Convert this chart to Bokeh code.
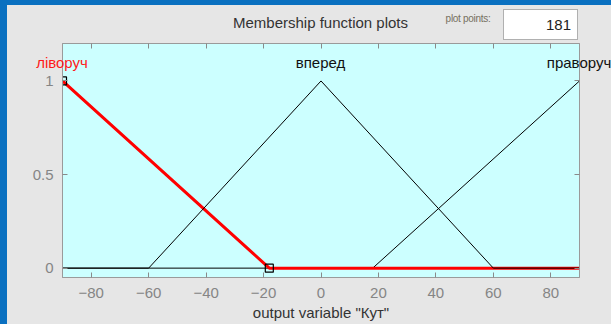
from bokeh.plotting import figure
from bokeh.models import Range1d, LinearAxis, FixedTicker, CustomJSTickFormatter, Div
from bokeh.embed import file_html
from bokeh.resources import INLINE

# ---- data ----
x_ticks = [-80, -60, -40, -20, 0, 20, 40, 60, 80]
y_ticks = [0, 0.5, 1]
y_tick_labels = {0: "0", 0.5: "0.5", 1: "1"}

mf_names = ["ліворуч", "вперед", "праворуч"]
mf_peaks = [-90, 0, 90]
mf_colors = ["#ff1a1a", "#111111", "#111111"]

livoruch_x = [-90, -18, 90]
livoruch_y = [1, 0, 0]
vpered_x = [-90, -60, 0, 60, 90]
vpered_y = [0, 0, 1, 0, 0]
pravoruch_x = [-90, 18, 90]
pravoruch_y = [0, 0, 1]
sel_vertex_x = [-90, -18]
sel_vertex_y = [1, 0]

plot_points = "181"
x_label = 'output variable "Кут"'
title_text = "Membership function plots"

FONT = "Liberation Sans"
W, H = 611, 324
BL, BR, BT, BB = 62, 32, 43, 47
XMIN, XMAX, YMIN, YMAX = -90, 90, -0.05, 1.2

p = figure(width=W, height=H, x_range=Range1d(XMIN, XMAX), y_range=Range1d(YMIN, YMAX),
           output_backend="svg", toolbar_location=None,
           min_border_left=BL, min_border_right=BR, min_border_top=BT, min_border_bottom=BB)
p.background_fill_color = "#ccffff"
p.border_fill_color = "#e6e6e6"
p.outline_line_color = "#9a9a9a"
p.xgrid.visible = False
p.ygrid.visible = False

fw = W - BL - BR
def cx(peak):
    return BL + (peak - XMIN) * fw / (XMAX - XMIN)

# axes
for ax in [p.xaxis[0], p.yaxis[0]]:
    ax.axis_line_color = "#9a9a9a"
    ax.major_tick_line_color = "#8a8a8a"
    ax.major_tick_in = 5
    ax.major_tick_out = 0
    ax.minor_tick_line_color = None
    ax.major_label_text_font = FONT
    ax.major_label_text_font_size = "15px"
    ax.major_label_text_color = "#858585"

p.xaxis.ticker = FixedTicker(ticks=x_ticks)
p.xaxis.major_label_standoff = 10
p.xaxis.axis_label = x_label
p.xaxis.axis_label_text_font = FONT
p.xaxis.axis_label_text_font_size = "15px"
p.xaxis.axis_label_text_font_style = "normal"
p.xaxis.axis_label_text_color = "#333333"
p.xaxis.axis_label_standoff = 3

p.yaxis.ticker = FixedTicker(ticks=y_ticks)
p.yaxis.major_label_overrides = y_tick_labels
p.yaxis.major_label_standoff = 9

blank = CustomJSTickFormatter(code="return ''")
top = LinearAxis(ticker=FixedTicker(ticks=x_ticks), formatter=blank,
                 major_label_standoff=0, major_tick_in=5, major_tick_out=0,
                 minor_tick_line_color=None, axis_line_color="#9a9a9a",
                 major_tick_line_color="#8a8a8a")
right = LinearAxis(ticker=FixedTicker(ticks=y_ticks), formatter=blank,
                   major_label_standoff=0, major_tick_in=5, major_tick_out=0,
                   minor_tick_line_color=None, axis_line_color="#9a9a9a",
                   major_tick_line_color="#8a8a8a")
p.add_layout(top, "above")
p.add_layout(right, "right")

# membership functions (selected one in red)
p.line(pravoruch_x, pravoruch_y, line_color="black", line_width=1)
p.line(livoruch_x, livoruch_y, line_color="#ff0000", line_width=3)
p.line(vpered_x, vpered_y, line_color="black", line_width=1)
p.scatter(sel_vertex_x, sel_vertex_y, marker="square", size=8, fill_color=None,
          line_color="black", line_width=1.2)

# floating html texts (not clipped to the plot frame)
def html_text(text, left, top, extra, center=True):
    st = {"position": "absolute", "left": f"{left}px", "top": f"{top}px",
          "font-family": FONT, "white-space": "nowrap", "z-index": "10",
          "line-height": "1", "margin": "0", "padding": "0",
          "box-sizing": "border-box"}
    if center:
        st["transform"] = "translate(-50%, -50%)"
    st.update(extra)
    return Div(text=text, styles=st)

elems = []
for name, peak, col in zip(mf_names, mf_peaks, mf_colors):
    elems.append(html_text(name, cx(peak), 62, {"font-size": "15px", "color": col}))
elems.append(html_text(title_text, cx(0), 22, {"font-size": "15px", "color": "#333333"}))
elems.append(html_text("plot points:", 468, 19, {"font-size": "10px", "color": "#76705f",
                                                 "letter-spacing": "-0.3px"}))
elems.append(html_text(plot_points, 503, 9, {"font-size": "15px", "color": "#222222",
                                             "width": "75px", "height": "31px",
                                             "line-height": "29px", "text-align": "right",
                                             "padding-right": "6px",
                                             "background": "white",
                                             "border": "1px solid #b0b0b0"}, center=False))
elems.append(html_text("", 0, 0, {"width": "7px", "height": f"{H}px",
                                  "background": "#0a70c0"}, center=False))
elems.append(html_text("", 0, 0, {"width": f"{W}px", "height": "5px",
                                  "background": "#0a70c0"}, center=False))
p.elements = elems

open("out.html", "w").write(file_html(p, INLINE))
